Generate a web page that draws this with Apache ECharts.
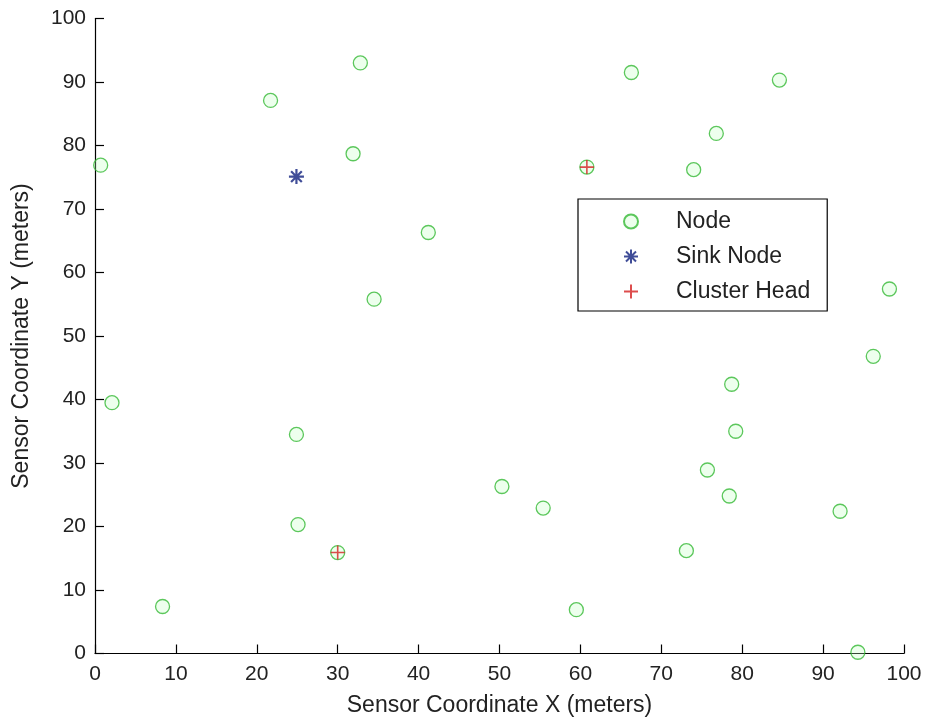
<!DOCTYPE html>
<html>
<head>
<meta charset="utf-8">
<script src="https://cdn.jsdelivr.net/npm/echarts@6/dist/echarts.min.js"></script>
<style>
html,body{margin:0;padding:0;background:#fff;}
#chart{width:925px;height:723px;}
</style>
</head>
<body>
<div id="chart"></div>
<script>
// Data
const nodeX = [0.7, 2.1, 8.35, 21.7, 31.9, 32.8, 41.2, 34.5, 24.9, 25.1, 30.0, 50.3, 55.4, 59.5, 60.8, 66.3, 74.0, 76.8, 84.6, 98.2, 96.2, 78.7, 79.2, 75.7, 78.4, 92.1, 73.1, 94.3];
const nodeY = [76.9, 39.5, 7.4, 87.1, 78.7, 93.0, 66.3, 55.8, 34.5, 20.3, 15.9, 26.3, 22.9, 6.9, 76.6, 91.5, 76.2, 81.9, 90.3, 57.4, 46.8, 42.4, 35.0, 28.9, 24.8, 22.4, 16.2, 0.2];
const sinkX = [24.9];
const sinkY = [75.1];
const headX = [30.0, 60.8];
const headY = [15.9, 76.6];
const seriesNames = ['Node', 'Sink Node', 'Cluster Head'];
const xTitle = 'Sensor Coordinate X (meters)';
const yTitle = 'Sensor Coordinate Y (meters)';

const pairs = (xs, ys) => xs.map((x, i) => [x, ys[i]]);
const FONT = 'Liberation Sans, Arial, sans-serif';
const TXT = '#222';

const chart = echarts.init(document.getElementById('chart'), null, {renderer: 'canvas'});
chart.setOption({
  backgroundColor: '#fff',
  animation: false,
  grid: {left: 95, right: 21, top: 18.5, bottom: 69.5, containLabel: false},
  xAxis: {
    type: 'value', min: 0, max: 100, interval: 10,
    name: xTitle, nameLocation: 'middle', nameGap: 41,
    nameTextStyle: {color: TXT, fontSize: 23, fontFamily: FONT},
    axisLine: {show: true, onZero: false, lineStyle: {color: '#000', width: 1.2}},
    axisTick: {show: true, inside: true, length: 9, lineStyle: {color: '#000', width: 1.2}},
    axisLabel: {color: TXT, fontSize: 21, fontFamily: FONT, margin: 10},
    splitLine: {show: false}
  },
  yAxis: {
    type: 'value', min: 0, max: 100, interval: 10,
    name: yTitle, nameLocation: 'middle', nameGap: 62,
    nameTextStyle: {color: TXT, fontSize: 23, fontFamily: FONT},
    axisLine: {show: true, onZero: false, lineStyle: {color: '#000', width: 1.2}},
    axisTick: {show: true, inside: true, length: 9, lineStyle: {color: '#000', width: 1.2}},
    axisLabel: {color: TXT, fontSize: 21, fontFamily: FONT, margin: 9},
    splitLine: {show: false}
  },
  legend: {
    left: 578, top: 199, orient: 'vertical',
    data: seriesNames,
    backgroundColor: '#fff',
    borderColor: '#000', borderWidth: 1.2, borderRadius: 0,
    padding: [11, 17, 8, 45],
    itemGap: 12, itemWidth: 80, itemHeight: 14,
    textStyle: {color: TXT, fontSize: 23, fontFamily: FONT}
  },
  series: [
    {
      name: seriesNames[0], type: 'scatter', data: pairs(nodeX, nodeY),
      symbol: 'circle', symbolSize: 14, z: 2,
      itemStyle: {color: 'rgba(190,255,190,0.35)', borderColor: '#35b935', borderWidth: 1.3}
    },
    {
      name: seriesNames[1], type: 'scatter', data: pairs(sinkX, sinkY),
      symbol: 'path://M0,-7L0,7M-7,0L7,0M-5,-5L5,5M-5,5L5,-5M0,-7Z', symbolSize: 15, z: 3,
      itemStyle: {color: '#10207e', borderColor: '#10207e', borderWidth: 2.2}
    },
    {
      name: seriesNames[2], type: 'scatter', data: pairs(headX, headY),
      symbol: 'path://M0,-7L0,7M-7,0L7,0M0,-7Z', symbolSize: 14, z: 4,
      itemStyle: {color: '#d42020', borderColor: '#d42020', borderWidth: 1.6}
    }
  ]
});
</script>
</body>
</html>
